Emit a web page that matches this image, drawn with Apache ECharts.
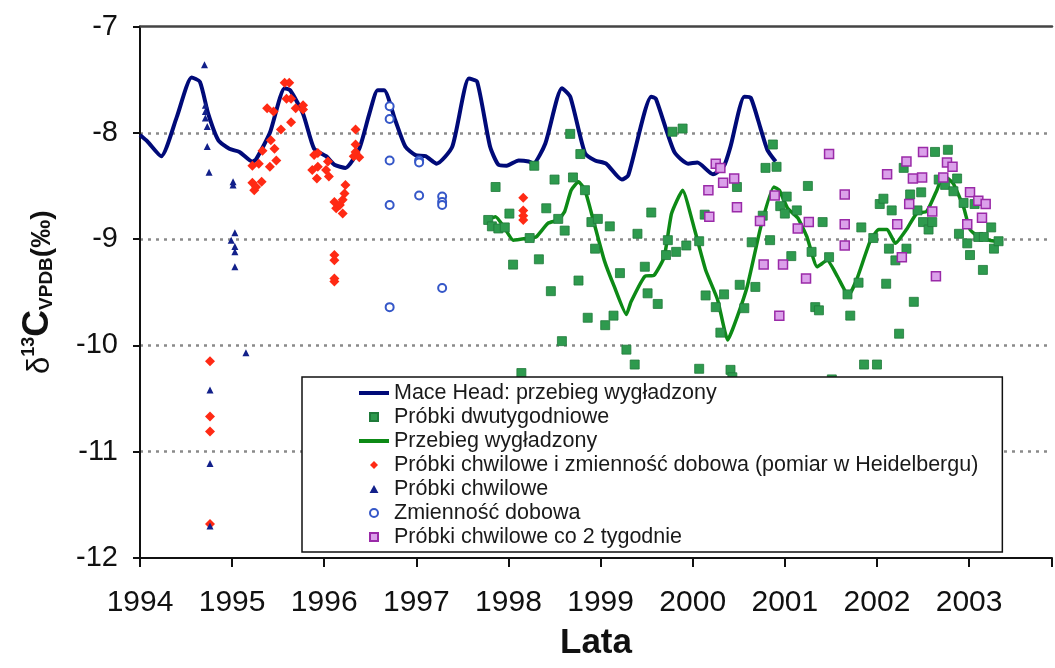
<!DOCTYPE html>
<html>
<head>
<meta charset="utf-8">
<script src="https://cdn.jsdelivr.net/npm/echarts@6/dist/echarts.min.js"></script>
<style>
html,body{margin:0;padding:0;background:#fff;}
#chart{width:1055px;height:668px;}
</style>
</head>
<body>
<div id="chart"></div>
<script>
// ---- Data ----
const xTickYears = [1994, 1995, 1996, 1997, 1998, 1999, 2000, 2001, 2002, 2003];
const yTicks = [-12, -11, -10, -9, -8, -7];

const maceYears = [1994.00,1994.08,1994.23,1994.40,1994.56,1994.65,1994.74,1994.85,1994.97,1995.08,1995.22,1995.26,1995.41,1995.57,1995.63,1995.77,1995.89,1996.02,1996.11,1996.23,1996.38,1996.49,1996.58,1996.65,1996.77,1996.88,1996.99,1997.10,1997.22,1997.39,1997.57,1997.66,1997.80,1997.89,1997.98,1998.11,1998.22,1998.27,1998.40,1998.58,1998.67,1998.83,1998.94,1999.06,1999.23,1999.30,1999.55,1999.60,1999.80,1999.95,2000.05,2000.22,2000.34,2000.41,2000.56,2000.63,2000.74,2000.81,2000.90];
const maceVals  = [-8.02,-8.08,-8.22,-7.85,-7.48,-7.52,-7.82,-8.07,-8.15,-8.18,-8.27,-8.25,-8.00,-7.58,-7.60,-7.82,-8.15,-8.22,-8.30,-8.33,-8.15,-7.82,-7.60,-7.60,-7.88,-8.13,-8.21,-8.22,-8.29,-8.13,-7.49,-7.52,-8.13,-8.30,-8.31,-8.26,-8.27,-8.29,-8.10,-7.58,-7.66,-8.19,-8.26,-8.29,-8.44,-8.40,-7.66,-7.68,-8.18,-8.29,-8.28,-8.39,-8.31,-8.13,-7.66,-7.67,-7.97,-8.16,-8.27];

const smoothYears = [1997.77,1997.86,1997.96,1998.05,1998.23,1998.30,1998.43,1998.54,1998.61,1998.68,1998.76,1998.83,1998.92,1999.04,1999.15,1999.28,1999.33,1999.48,1999.58,1999.69,1999.77,1999.89,2000.02,2000.14,2000.27,2000.38,2000.45,2000.59,2000.74,2000.88,2000.94,2001.03,2001.14,2001.24,2001.35,2001.46,2001.57,2001.69,2001.78,2001.93,2002.02,2002.11,2002.20,2002.32,2002.43,2002.54,2002.65,2002.72,2002.83,2002.94,2003.01,2003.12,2003.22,2003.30];
const smoothVals  = [-8.82,-8.79,-8.90,-9.01,-8.99,-8.98,-8.85,-8.82,-8.74,-8.54,-8.46,-8.54,-8.82,-9.20,-9.45,-9.71,-9.59,-9.35,-9.34,-9.17,-8.76,-8.54,-8.91,-9.29,-9.57,-9.95,-9.81,-9.45,-8.88,-8.51,-8.54,-8.71,-8.80,-8.98,-9.26,-9.20,-9.35,-9.53,-9.38,-9.01,-8.91,-8.91,-9.04,-8.91,-8.76,-8.74,-8.54,-8.40,-8.48,-8.70,-8.91,-8.99,-9.01,-9.02];

const biweeklyYears = [1997.78,1997.82,1997.86,1997.89,1997.96,1998.01,1998.05,1998.14,1998.23,1998.28,1998.33,1998.41,1998.46,1998.50,1998.54,1998.58,1998.61,1998.67,1998.70,1998.76,1998.78,1998.83,1998.86,1998.90,1998.94,1998.97,1999.05,1999.10,1999.14,1999.21,1999.28,1999.37,1999.40,1999.48,1999.51,1999.55,1999.62,1999.71,1999.73,1999.78,1999.82,1999.89,1999.93,2000.07,2000.07,2000.13,2000.14,2000.25,2000.30,2000.34,2000.41,2000.43,2000.48,2000.51,2000.56,2000.64,2000.68,2000.76,2000.79,2000.84,2000.87,2000.91,2000.95,2001.00,2001.02,2001.07,2001.13,2001.25,2001.29,2001.33,2001.37,2001.41,2001.48,2001.51,2001.68,2001.71,2001.80,2001.83,2001.86,2001.96,2002.00,2002.03,2002.07,2002.10,2002.13,2002.16,2002.20,2002.24,2002.29,2002.32,2002.36,2002.40,2002.44,2002.48,2002.50,2002.56,2002.60,2002.63,2002.67,2002.74,2002.77,2002.83,2002.87,2002.89,2002.94,2002.98,2003.01,2003.06,2003.10,2003.15,2003.16,2003.24,2003.27,2003.32];
const biweeklyVals  = [-8.82,-8.88,-8.51,-8.90,-8.89,-8.76,-9.24,-10.26,-8.99,-8.31,-9.19,-8.71,-9.49,-8.44,-8.81,-9.96,-8.92,-8.01,-8.42,-9.39,-8.20,-8.54,-9.74,-8.84,-9.09,-8.81,-9.81,-8.88,-9.72,-9.32,-10.04,-10.18,-8.95,-9.26,-9.51,-8.75,-9.61,-9.15,-9.01,-7.99,-9.12,-7.96,-9.06,-9.02,-10.22,-8.77,-9.53,-9.64,-9.88,-9.52,-10.23,-10.30,-8.51,-9.43,-9.65,-9.03,-9.45,-8.78,-8.33,-9.01,-8.11,-8.32,-8.69,-8.76,-8.60,-9.16,-8.73,-8.50,-9.12,-9.64,-9.67,-8.84,-9.17,-10.32,-9.52,-9.72,-9.41,-8.89,-10.18,-8.99,-10.18,-8.67,-8.62,-9.42,-9.09,-8.73,-9.20,-9.89,-8.33,-9.09,-8.58,-9.59,-8.73,-8.56,-8.84,-8.91,-8.84,-8.18,-8.44,-8.49,-8.16,-8.55,-8.43,-8.95,-8.66,-9.04,-9.15,-8.67,-8.98,-9.29,-8.98,-8.89,-9.09,-9.02];

const heidelYears = [1994.76,1994.76,1994.76,1994.76,1995.22,1995.22,1995.24,1995.26,1995.29,1995.32,1995.33,1995.38,1995.41,1995.42,1995.45,1995.46,1995.48,1995.53,1995.57,1995.59,1995.62,1995.64,1995.64,1995.69,1995.77,1995.77,1995.87,1995.89,1995.92,1995.93,1995.93,1996.02,1996.04,1996.05,1996.11,1996.11,1996.11,1996.11,1996.11,1996.13,1996.17,1996.20,1996.20,1996.22,1996.23,1996.32,1996.34,1996.34,1996.34,1996.38,1998.16,1998.16,1998.16,1998.16];
const heidelVals  = [-10.15,-10.67,-10.81,-11.68,-8.31,-8.47,-8.54,-8.51,-8.29,-8.46,-8.17,-7.77,-8.32,-8.07,-7.80,-8.15,-8.26,-7.97,-7.53,-7.68,-7.53,-7.68,-7.90,-7.77,-7.74,-7.78,-8.35,-8.21,-8.43,-8.19,-8.32,-8.35,-8.27,-8.41,-8.65,-9.15,-9.20,-9.37,-9.40,-8.71,-8.68,-8.63,-8.76,-8.57,-8.49,-8.22,-7.97,-8.11,-8.18,-8.23,-8.61,-8.73,-8.78,-8.82];

const grabYears = [1994.70,1994.71,1994.71,1994.71,1994.73,1994.73,1994.75,1994.76,1994.76,1994.76,1995.01,1995.01,1995.03,1994.99,1995.03,1995.03,1995.03,1995.15];
const grabVals  = [-7.36,-7.74,-7.80,-7.86,-7.94,-8.13,-8.37,-10.42,-11.11,-11.70,-8.46,-8.49,-8.94,-9.01,-9.07,-9.12,-9.26,-10.07];

const diurnalYears = [1996.71,1996.71,1996.71,1996.71,1996.71,1997.03,1997.03,1997.03,1997.28,1997.28,1997.28,1997.28];
const diurnalVals  = [-7.75,-7.87,-8.26,-8.68,-9.64,-8.26,-8.28,-8.59,-8.60,-8.65,-8.68,-9.46];

const grab2wYears = [2000.17,2000.18,2000.25,2000.30,2000.33,2000.45,2000.48,2000.73,2000.77,2000.89,2000.94,2000.98,2001.14,2001.23,2001.26,2001.48,2001.65,2001.65,2001.65,2002.11,2002.22,2002.27,2002.32,2002.35,2002.39,2002.49,2002.50,2002.60,2002.64,2002.72,2002.76,2002.82,2002.98,2003.01,2003.10,2003.14,2003.18];
const grab2wVals  = [-8.54,-8.79,-8.29,-8.33,-8.47,-8.43,-8.70,-8.83,-9.24,-8.59,-9.72,-9.24,-8.90,-9.37,-8.84,-8.20,-8.58,-8.86,-9.06,-8.39,-8.86,-9.17,-8.27,-8.67,-8.43,-8.42,-8.18,-8.74,-9.35,-8.42,-8.28,-8.32,-8.86,-8.56,-8.64,-8.80,-8.67];

const names = {
  mace: 'Mace Head: przebieg wygładzony',
  biweekly: 'Próbki dwutygodniowe',
  smooth: 'Przebieg wygładzony',
  heidel: 'Próbki chwilowe i zmienność dobowa (pomiar w Heidelbergu)',
  grab: 'Próbki chwilowe',
  diurnal: 'Zmienność dobowa',
  grab2w: 'Próbki chwilowe co 2 tygodnie'
};

function zip(xs, ys) { return xs.map((x, i) => [x, ys[i]]); }

const FONT = 'Liberation Sans, Arial, sans-serif';
const chart = echarts.init(document.getElementById('chart'), null, {renderer: 'canvas'});

const option = {
  backgroundColor: '#ffffff',
  animation: false,
  grid: {left: 140, right: 0, top: 26.5, bottom: 110, containLabel: false},
  xAxis: [{
    type: 'value', min: xTickYears[0], max: 2003.9, interval: 1,
    name: 'Lata', nameLocation: 'middle', nameGap: 68,
    nameTextStyle: {fontFamily: FONT, fontSize: 35, fontWeight: 'bold', color: '#111'},
    axisLine: {show: true, onZero: false, lineStyle: {color: '#111', width: 2}},
    axisTick: {show: true, length: 9, lineStyle: {color: '#111', width: 2}},
    axisLabel: {fontFamily: FONT, fontSize: 30, color: '#111', margin: 30,
      formatter: v => (xTickYears.indexOf(Math.round(v)) >= 0 && Math.abs(v - Math.round(v)) < 1e-6) ? String(Math.round(v)) : ''},
    splitLine: {show: false}
  }, {
    type: 'value', position: 'top', min: xTickYears[0], max: 2003.9,
    axisLine: {show: true, onZero: false, lineStyle: {color: '#444', width: 2.5}},
    axisTick: {show: false}, axisLabel: {show: false}, splitLine: {show: false}
  }],
  yAxis: {
    type: 'value', min: yTicks[0], max: yTicks[yTicks.length - 1], interval: 1,
    name: '{d|δ}{s|13}{c|C}{v|VPDB}{p|(‰)}',
    nameLocation: 'middle', nameRotate: 90, nameGap: 84,
    nameTextStyle: {
      fontFamily: FONT, color: '#111',
      rich: {
        d: {fontFamily: FONT, fontSize: 31, color: '#111', lineHeight: 36, verticalAlign: 'bottom'},
        s: {fontFamily: FONT, fontSize: 18, fontWeight: 'bold', color: '#111', lineHeight: 18, verticalAlign: 'top'},
        c: {fontFamily: FONT, fontSize: 37, fontWeight: 'bold', color: '#111', lineHeight: 36, verticalAlign: 'bottom'},
        v: {fontFamily: FONT, fontSize: 19, fontWeight: 'bold', color: '#111', lineHeight: 16, verticalAlign: 'bottom'},
        p: {fontFamily: FONT, fontSize: 28, fontWeight: 'bold', color: '#111', lineHeight: 36, verticalAlign: 'bottom'}
      }
    },
    axisLine: {show: true, onZero: false, lineStyle: {color: '#111', width: 2}},
    axisTick: {show: true, length: 7, lineStyle: {color: '#111', width: 2}},
    axisLabel: {fontFamily: FONT, fontSize: 29, color: '#111', margin: 22},
    splitLine: {
      show: true, showMinLine: false, showMaxLine: false,
      lineStyle: {color: '#8a8a8a', width: 2.5, type: [3, 5]}
    }
  },
  legend: {
    orient: 'vertical', left: 302, top: 377,
    padding: [5, 24, 4, 57],
    itemWidth: 30, itemHeight: 8, itemGap: 2,
    backgroundColor: '#ffffff', borderColor: '#111', borderWidth: 1.5, borderRadius: 0,
    selectedMode: false,
    textStyle: {fontFamily: FONT, fontSize: 21.5, color: '#1a1a1a', lineHeight: 21.5},
    data: [
      {name: names.mace, icon: 'path://M0,0H30V4H0Z'},
      {name: names.biweekly, icon: 'path://M0,0H10V10H0Z'},
      {name: names.smooth, icon: 'path://M0,0H30V4H0Z'},
      {name: names.heidel, icon: 'path://M5,0L10,5L5,10L0,5Z'},
      {name: names.grab, icon: 'path://M5,0L10,9L0,9Z'},
      {name: names.diurnal, icon: 'circle'},
      {name: names.grab2w, icon: 'path://M0,0H10V10H0Z'}
    ]
  },
  series: [
    {
      name: names.mace, type: 'line', data: zip(maceYears, maceVals),
      symbol: 'none', smooth: 0.2,
      lineStyle: {color: '#000a78', width: 4}, itemStyle: {color: '#000a78'}, z: 2
    },
    {
      name: names.smooth, type: 'line', data: zip(smoothYears, smoothVals),
      symbol: 'none', smooth: 0.15,
      lineStyle: {color: '#0d8a16', width: 3.5}, itemStyle: {color: '#0d8a16'}, z: 2
    },
    {
      name: names.biweekly, type: 'scatter', data: zip(biweeklyYears, biweeklyVals),
      symbol: 'rect', symbolSize: 9,
      itemStyle: {color: '#2e9a4e', borderColor: '#1f7a3a', borderWidth: 0.8, opacity: 1}, z: 3
    },
    {
      name: names.heidel, type: 'scatter', data: zip(heidelYears, heidelVals),
      symbol: 'diamond', symbolSize: [10, 10],
      itemStyle: {color: '#ff2a14', opacity: 1}, z: 3
    },
    {
      name: names.grab, type: 'scatter', data: zip(grabYears, grabVals),
      symbol: 'triangle', symbolSize: [7, 7],
      itemStyle: {color: '#12208a', opacity: 1}, z: 3
    },
    {
      name: names.diurnal, type: 'scatter', data: zip(diurnalYears, diurnalVals),
      symbol: 'circle', symbolSize: 8,
      itemStyle: {color: '#ffffff', borderColor: '#3557c8', borderWidth: 2, opacity: 1}, z: 3
    },
    {
      name: names.grab2w, type: 'scatter', data: zip(grab2wYears, grab2wVals),
      symbol: 'rect', symbolSize: 9,
      itemStyle: {color: '#dba0ea', borderColor: '#9a2aa8', borderWidth: 1.5, opacity: 1}, z: 3
    }
  ]
};
chart.setOption(option);
</script>
</body>
</html>
